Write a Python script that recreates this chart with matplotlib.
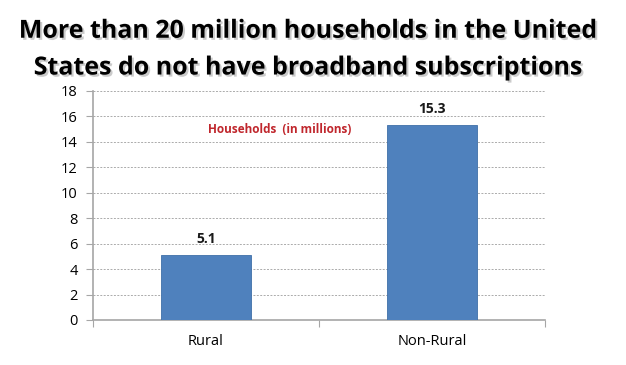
import matplotlib.pyplot as plt
import matplotlib.patheffects as pe
import numpy as np

plt.rcParams["font.family"] = ["Open Sans", "DejaVu Sans"]

# ── Data ────────────────────────────────────────────────────────────────
categories = ["Rural", "Non-Rural"]
households = [5.1, 15.3]   # millions
y_ticks = np.arange(0, 19, 2)

TITLE = "More than 20 million households in the United\nStates do not have broadband subscriptions"
NOTE = "Households  (in millions)"
BAR_COLOR = "#4f81bd"
AXIS_GRAY = "#a6a6a6"


def main():
    fig = plt.figure(figsize=(6.26, 3.65), dpi=100)
    ax = fig.add_axes([0.1486, 0.1233, 0.7220, 0.6274])

    x = np.arange(len(categories))
    ax.bar(x, households, width=0.4, color=BAR_COLOR, edgecolor="#3f6fa8",
           linewidth=0.6, zorder=3)

    for xi, v in zip(x, households):
        ax.text(xi, v + 0.75, f"{v:.1f}", ha="center", va="bottom",
                fontsize=10, fontweight="bold", color="#1a1a1a")

    ax.text(0.01, 15.0, NOTE, ha="left", va="center", fontsize=8.5,
            fontweight="bold", color="#c0272d")

    # ── Axes styling ─────────────────────────────────────────────────────
    ax.set_xlim(-0.5, 1.5)
    ax.set_ylim(0, 18)
    ax.set_yticks(y_ticks)
    ax.set_yticklabels([str(t) for t in y_ticks], fontsize=10.5)
    ax.yaxis.grid(True, linestyle=(0, (2, 1.5)), color="#ababab",
                  linewidth=0.7, zorder=0)
    ax.set_axisbelow(True)

    ax.set_xticks([-0.5, 0.5, 1.5])
    ax.set_xticklabels([])
    ax.set_xticks(x, minor=True)
    ax.set_xticklabels(categories, minor=True, fontsize=10.5)
    ax.tick_params(axis="x", which="minor", length=0, pad=10)
    ax.tick_params(axis="x", which="major", length=5, color=AXIS_GRAY,
                   direction="out")
    ax.tick_params(axis="y", length=5, color=AXIS_GRAY, direction="out",
                   pad=6)

    for side in ["top", "right"]:
        ax.spines[side].set_visible(False)
    for side in ["left", "bottom"]:
        ax.spines[side].set_color(AXIS_GRAY)
        ax.spines[side].set_linewidth(1.2)

    # ── Title with drop shadow ───────────────────────────────────────────
    fig.text(0.493, 0.864, TITLE, ha="center", va="center", fontsize=18,
             fontweight="bold", linespacing=1.62, color="black",
             path_effects=[pe.SimplePatchShadow(offset=(1.5, -1.5),
                                                shadow_rgbFace="#999999",
                                                alpha=0.5),
                           pe.Normal()])

    fig.savefig("out.png", dpi=100, facecolor="white")
    plt.close(fig)


if __name__ == "__main__":
    main()
